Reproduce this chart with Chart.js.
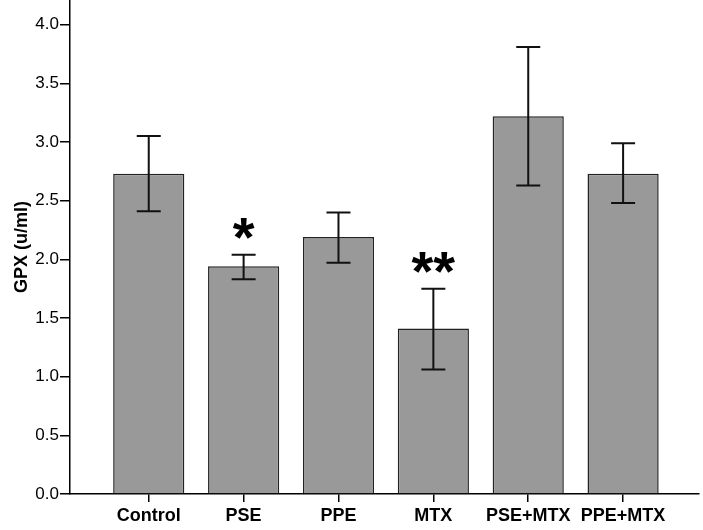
<!DOCTYPE html>
<html>
<head>
<meta charset="utf-8">
<script src="https://cdn.jsdelivr.net/npm/chart.js@4/dist/chart.umd.min.js"></script>
<style>
  html, body { margin: 0; padding: 0; background: #fff; }
  #wrap { width: 703px; height: 530px; position: relative; }
</style>
</head>
<body>
<div id="wrap"><canvas id="chart"></canvas></div>
<script>
const categories = ['Control', 'PSE', 'PPE', 'MTX', 'PSE+MTX', 'PPE+MTX'];
const means = [2.73, 1.94, 2.19, 1.41, 3.22, 2.73];
const errHigh = [3.05, 2.04, 2.40, 1.75, 3.81, 2.99];
const errLow = [2.41, 1.83, 1.97, 1.06, 2.63, 2.48];
const marks = ['', '*', '', '**', '', ''];

Chart.defaults.font.family = "'Liberation Sans', Arial, sans-serif";
Chart.defaults.color = '#000';

// error bars + significance stars
const errorBars = {
  id: 'errorBars',
  afterDatasetsDraw(chart) {
    const ctx = chart.ctx;
    const xs = chart.scales.x;
    const ys = chart.scales.y;
    ctx.save();
    ctx.strokeStyle = '#111';
    ctx.lineWidth = 2;
    categories.forEach((c, i) => {
      const x = xs.getPixelForValue(i);
      const yh = ys.getPixelForValue(errHigh[i]);
      const yl = ys.getPixelForValue(errLow[i]);
      ctx.beginPath();
      ctx.moveTo(x, yh);
      ctx.lineTo(x, yl);
      ctx.moveTo(x - 12, yh);
      ctx.lineTo(x + 12, yh);
      ctx.moveTo(x - 12, yl);
      ctx.lineTo(x + 12, yl);
      ctx.stroke();
      if (marks[i]) {
        ctx.fillStyle = '#000';
        ctx.font = "bold 56px 'Liberation Sans', Arial, sans-serif";
        ctx.textAlign = 'center';
        ctx.textBaseline = 'alphabetic';
        ctx.fillText(marks[i], x, yh + 1);
      }
    });
    ctx.restore();
  }
};

new Chart(document.getElementById('chart'), {
  type: 'bar',
  data: {
    datasets: [{
      data: means.map((v, i) => ({ x: i, y: v })),
      backgroundColor: '#999999',
      borderColor: '#222222',
      borderWidth: 1.5,
      barPercentage: 0.75,
      categoryPercentage: 1,
    }],
  },
  options: {
    responsive: true,
    maintainAspectRatio: false,
    animation: false,
    layout: { padding: { top: 0, right: 4, left: 0, bottom: 0 } },
    scales: {
      x: {
        type: 'linear',
        min: -0.83,
        max: 5.8,
        offset: false,
        afterBuildTicks: (scale) => {
          scale.ticks = categories.map((c, i) => ({ value: i }));
        },
        afterFit: (scale) => {
          scale.height = 36;
          scale.paddingLeft = 0;
          scale.paddingRight = 0;
        },
        grid: { offset: false, drawOnChartArea: false, drawTicks: true, tickLength: 8, color: '#000', lineWidth: 1.5 },
        border: { display: true, color: '#000', width: 1.5 },
        ticks: {
          autoSkip: false,
          maxRotation: 0,
          padding: 3,
          font: { size: 18, weight: 'bold' },
          callback: (value) => categories[value],
        },
      },
      y: {
        min: 0,
        max: 4.21,
        afterFit: (scale) => {
          scale.width = 70;
          scale.paddingTop = 0;
          scale.paddingBottom = 0;
        },
        grid: { drawOnChartArea: false, drawTicks: true, tickLength: 10, color: '#000', lineWidth: 1.5 },
        border: { display: true, color: '#000', width: 1.5 },
        ticks: {
          stepSize: 0.5,
          includeBounds: false,
          padding: 1,
          font: { size: 17 },
          callback: (value) => value.toFixed(1),
        },
        title: {
          display: true,
          text: 'GPX (u/ml)',
          font: { size: 18, weight: 'bold' },
          padding: { top: 11, bottom: 0 },
        },
      },
    },
    plugins: {
      legend: { display: false },
      tooltip: { enabled: false },
    },
  },
  plugins: [errorBars],
});
</script>
</body>
</html>
